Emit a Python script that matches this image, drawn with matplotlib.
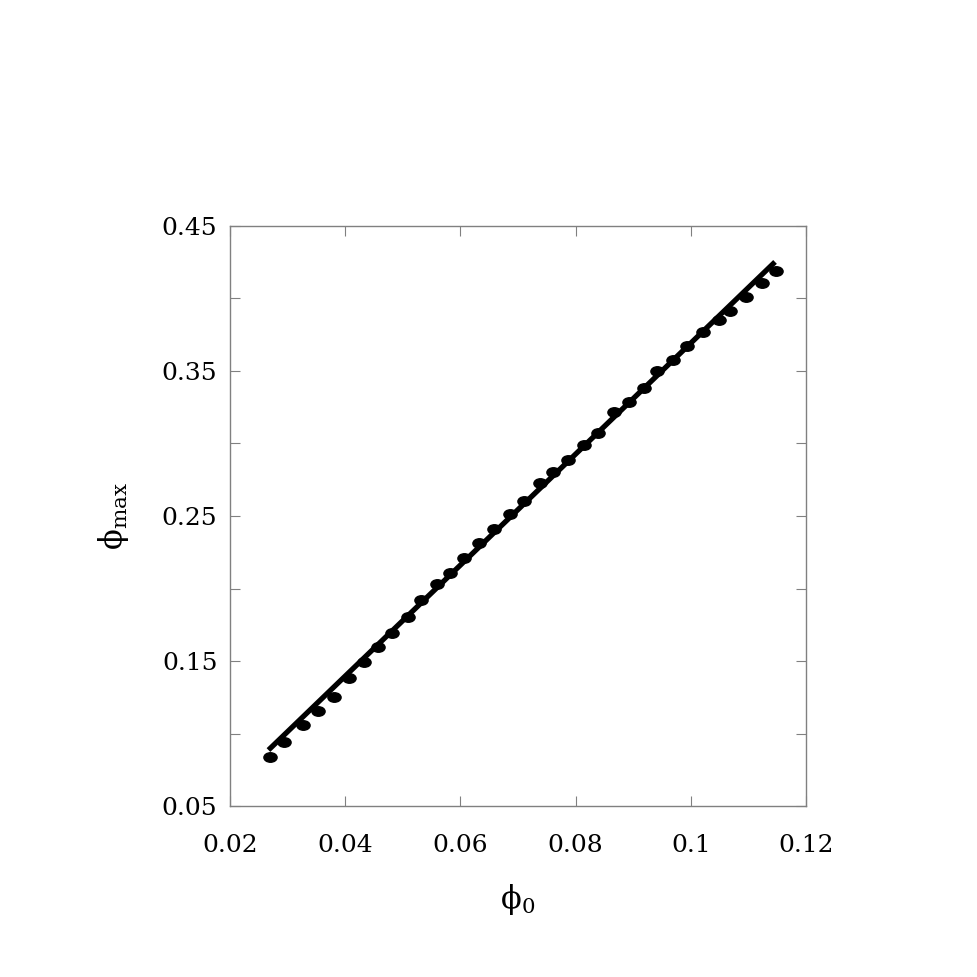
import numpy as np
import matplotlib
matplotlib.use("Agg")
import matplotlib.pyplot as plt
from matplotlib.path import Path
from matplotlib.transforms import Affine2D

phi0 = [0.02694, 0.02943, 0.03273, 0.03533, 0.03806, 0.04061, 0.04326, 0.04569,
        0.04818, 0.05085, 0.05311, 0.05589, 0.05819, 0.06063, 0.06328, 0.06589,
        0.06861, 0.07104, 0.07382, 0.07602, 0.07863, 0.08146, 0.08394, 0.08667,
        0.08927, 0.09193, 0.09418, 0.09686, 0.09939, 0.10217, 0.10481, 0.10681,
        0.10950, 0.11231, 0.11479]
phimax = [0.0836, 0.0943, 0.1059, 0.1157, 0.1254, 0.1385, 0.1491, 0.1597,
          0.1691, 0.1801, 0.1921, 0.2029, 0.2105, 0.2208, 0.2312, 0.2408,
          0.2514, 0.2606, 0.2726, 0.2806, 0.2886, 0.2990, 0.3070, 0.3215,
          0.3283, 0.3381, 0.3500, 0.3576, 0.3672, 0.3766, 0.3855, 0.3912,
          0.4010, 0.4105, 0.4192]

fit_x = [0.02668, 0.11462]
fit_y = [0.0886, 0.4252]

xticks = [0.02, 0.04, 0.06, 0.08, 0.10, 0.12]
xticklabels = ["0.02", "0.04", "0.06", "0.08", "0.1", "0.12"]
yticks = [0.05, 0.10, 0.15, 0.20, 0.25, 0.30, 0.35, 0.40, 0.45]
yticklabels = ["0.05", "", "0.15", "", "0.25", "", "0.35", "", "0.45"]

plt.rcParams['mathtext.fontset'] = 'dejavuserif'

fig = plt.figure(figsize=(9.77, 9.77), dpi=100)
ax = fig.add_axes([0.2354, 0.175, 0.5896, 0.5937])

ell = Path.unit_circle().transformed(Affine2D().scale(1.0, 0.72))
ax.plot(fit_x, fit_y, color='black', lw=3.8, solid_capstyle='butt', zorder=2)
ax.plot(phi0, phimax, linestyle='none', marker=ell, markersize=9.5,
        color='black', zorder=3)

ax.set_xlim(0.02, 0.12)
ax.set_ylim(0.05, 0.45)
ax.set_xticks(xticks)
ax.set_xticklabels(xticklabels)
ax.set_yticks(yticks)
ax.set_yticklabels(yticklabels)

for s in ax.spines.values():
    s.set_color('#808080')
    s.set_linewidth(1.0)

ax.tick_params(axis='both', which='major', direction='in', length=7,
               width=0.8, color='#808080', top=True, right=True,
               labelsize=18)
ax.tick_params(axis='x', pad=20)
ax.tick_params(axis='y', pad=9)
for lab in ax.get_xticklabels() + ax.get_yticklabels():
    lab.set_fontfamily('DejaVu Serif')

ax.set_xlabel(r'$\mathrm{\phi}_{\mathrm{0}}$', fontsize=22, labelpad=18)
ax.set_ylabel(r'$\mathrm{\phi}_{\mathrm{max}}$', fontsize=22, labelpad=22)

fig.savefig('out.png', dpi=100)
